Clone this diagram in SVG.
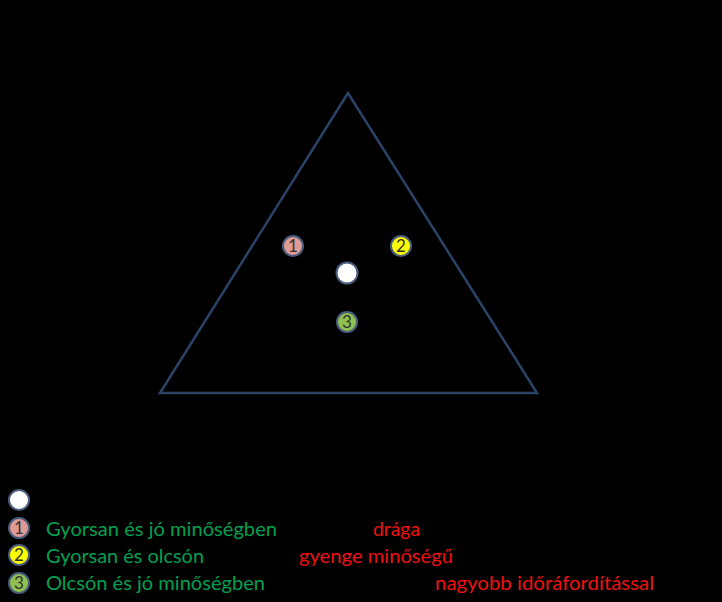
<svg xmlns="http://www.w3.org/2000/svg" width="722" height="602" viewBox="0 0 722 602">
<style>
.mk{stroke:#4a5d7e;stroke-width:2}
.num{font-family:Lato,"Liberation Sans",sans-serif;font-size:17px;fill:#333;text-anchor:middle}
.g{font-family:Lato,"Liberation Sans",sans-serif;font-size:19px;fill:#00a050}
.r{font-family:Lato,"Liberation Sans",sans-serif;font-size:19px;fill:#ee1111}
</style>
<rect width="722" height="602" fill="#000"/>
<g id="triangle"><polygon points="348,93 160,393 537,393" fill="none" stroke="#2a4468" stroke-width="2.5"/></g>
<g id="connectors"></g>
<g id="n1"><circle cx="293" cy="246" r="10" fill="#e09a96" class="mk"/><text x="293" y="252" class="num">1</text></g>
<g id="n2"><circle cx="401" cy="246" r="10" fill="#ffff00" class="mk"/><text x="401" y="252" class="num">2</text></g>
<g id="n0"><circle cx="347" cy="273" r="10.5" fill="#ffffff" class="mk"/></g>
<g id="n3"><circle cx="347" cy="322" r="10" fill="#8fc050" class="mk"/><text x="347" y="328" class="num">3</text></g>
<g id="legend">
<circle cx="19" cy="500" r="10" fill="#ffffff" class="mk"/>
<circle cx="19" cy="528" r="10" fill="#e09a96" class="mk"/><text x="19" y="534" class="num">1</text>
<circle cx="19" cy="555" r="10" fill="#ffff00" class="mk"/><text x="19" y="561" class="num">2</text>
<circle cx="19" cy="583" r="10" fill="#8fc050" class="mk"/><text x="19" y="589" class="num">3</text>
<text x="46" y="536" class="g" textLength="231" lengthAdjust="spacingAndGlyphs">Gyorsan és jó minőségben</text>
<text x="46" y="563" class="g" textLength="158" lengthAdjust="spacingAndGlyphs">Gyorsan és olcsón</text>
<text x="46" y="590" class="g" textLength="219" lengthAdjust="spacingAndGlyphs">Olcsón és jó minőségben</text>
<text x="373" y="536" class="r" textLength="47" lengthAdjust="spacingAndGlyphs">drága</text>
<text x="299" y="563" class="r" textLength="154" lengthAdjust="spacingAndGlyphs">gyenge minőségű</text>
<text x="435" y="590" class="r" textLength="219" lengthAdjust="spacingAndGlyphs">nagyobb időráfordítással</text>
</g>
</svg>
